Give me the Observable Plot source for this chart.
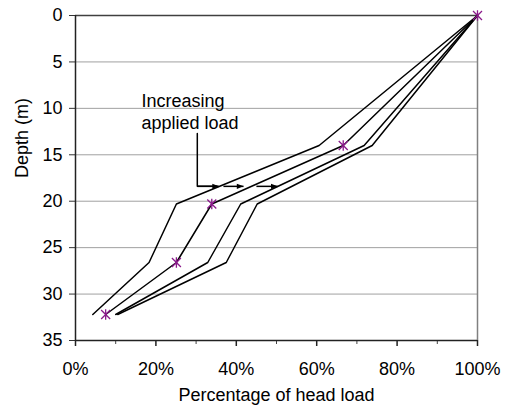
<!DOCTYPE html>
<html>
<head>
<meta charset="utf-8">
<script src="https://cdn.jsdelivr.net/npm/d3@7"></script>
<script src="https://cdn.jsdelivr.net/npm/@observablehq/plot@0.6"></script>
<style>
  html, body { margin: 0; padding: 0; background: #fff; }
  #chart svg { display: block; }
</style>
</head>
<body>
<div id="chart"></div>
<script>
// Depth (m) of each measurement level
const depth = [0, 14, 20.3, 26.6, 32.2];
// Percentage of head load for four increasing load cases
const series1 = [1.00, 0.606, 0.251, 0.183, 0.043];
const series2 = [1.00, 0.666, 0.339, 0.251, 0.075];
const series3 = [1.00, 0.718, 0.411, 0.329, 0.100];
const series4 = [1.00, 0.738, 0.452, 0.375, 0.105];
const markedSeries = 2;

const yTicks = [0, 5, 10, 15, 20, 25, 30, 35];
const xMajorTicks = [0, 0.2, 0.4, 0.6, 0.8, 1.0];
const xMinorTicks = [0.1, 0.3, 0.5, 0.7, 0.9];

// Annotation (data units)
const noteText = ["Increasing", "applied load"];
const noteX = [0.164, 0.164];
const noteY = [9.18, 11.58];
const leaderX = [0.303, 0.303, 0.352];
const leaderY = [12.7, 18.4, 18.4];
const arrowX1 = [0.303, 0.368, 0.450];
const arrowX2 = [0.357, 0.418, 0.503];
const arrowY = [18.4, 18.4, 18.4];

const allSeries = [series1, series2, series3, series4];
const rows = allSeries.flatMap((s, i) => s.map((v, j) => ({series: i + 1, pct: v, depth: depth[j]})));
const marked = rows.filter(d => d.series === markedSeries);
const arrows = arrowX1.map((x, i) => ({x1: x, x2: arrowX2[i], y: arrowY[i]}));

const star = {
  draw(context, size) {
    const r = Math.sqrt(size / Math.PI);
    context.moveTo(-r, -r); context.lineTo(r, r);
    context.moveTo(r, -r); context.lineTo(-r, r);
    context.moveTo(0, -r * 1.15); context.lineTo(0, r * 1.15);
  }
};
const headRight = {
  draw(context, size) {
    const r = Math.sqrt(size / Math.PI);
    context.moveTo(r, 0);
    context.lineTo(-r * 1.4, -r * 0.9);
    context.lineTo(-r * 1.4, r * 0.9);
    context.closePath();
  }
};

const FONT = "Liberation Sans, Arial, sans-serif";

const chart = Plot.plot({
  width: 507,
  height: 411,
  marginLeft: 75,
  marginRight: 30,
  marginTop: 15,
  marginBottom: 71,
  style: {fontFamily: FONT, fontSize: "18px", color: "#000", background: "#fff"},
  x: {domain: [0, 1]},
  y: {domain: [0, 35], reverse: true},
  marks: [
    Plot.gridY(yTicks.slice(1, -1), {stroke: "#a0a0a0", strokeOpacity: 1, strokeWidth: 1}),
    Plot.ruleX([1], {stroke: "#808080", strokeWidth: 1.5}),
    Plot.ruleY([0], {stroke: "#404040", strokeWidth: 1.5}),
    Plot.axisY(yTicks, {tickSize: 6, tickPadding: 7, fontSize: 18, label: null, stroke: "#333"}),
    Plot.axisX(xMajorTicks, {tickSize: 6, tickPadding: 16, fontSize: 18, tickFormat: d3.format(".0%"), label: null, stroke: "#222", strokeWidth: 1.5}),
    Plot.axisX(xMinorTicks, {tickSize: 4, tickFormat: () => "", label: null, stroke: "#444"}),
    Plot.ruleX([0], {stroke: "#222", strokeWidth: 1.5}),
    Plot.ruleY([35], {stroke: "#222", strokeWidth: 1.5}),
    Plot.line(rows, {x: "pct", y: "depth", z: "series", stroke: "#000", strokeWidth: 1.5}),
    Plot.dot(marked, {x: "pct", y: "depth", symbol: star, r: 4.5, stroke: "#8b1a8b", strokeWidth: 1.3, fill: "none"}),
    Plot.text(noteText, {x: (d, i) => noteX[i], y: (d, i) => noteY[i], text: d => d, textAnchor: "start", lineAnchor: "middle", fontSize: 18, fill: "#000"}),
    Plot.line(leaderX.map((x, i) => ({x, y: leaderY[i]})), {x: "x", y: "y", stroke: "#000", strokeWidth: 1.5}),
    Plot.link(arrows, {x1: "x1", x2: "x2", y1: "y", y2: "y", stroke: "#000", strokeWidth: 1.5}),
    Plot.dot(arrows, {x: "x2", y: "y", symbol: headRight, r: 2.8, fill: "#000", stroke: "none", dx: -2.8}),
    Plot.text(["Depth (m)"], {frameAnchor: "left", text: d => d, rotate: -90, dx: -53, fontSize: 18, fill: "#000"}),
    Plot.text(["Percentage of head load"], {frameAnchor: "bottom", text: d => d, dy: 60, fontSize: 18, fill: "#000"})
  ]
});
document.getElementById("chart").appendChild(chart);
</script>
</body>
</html>
